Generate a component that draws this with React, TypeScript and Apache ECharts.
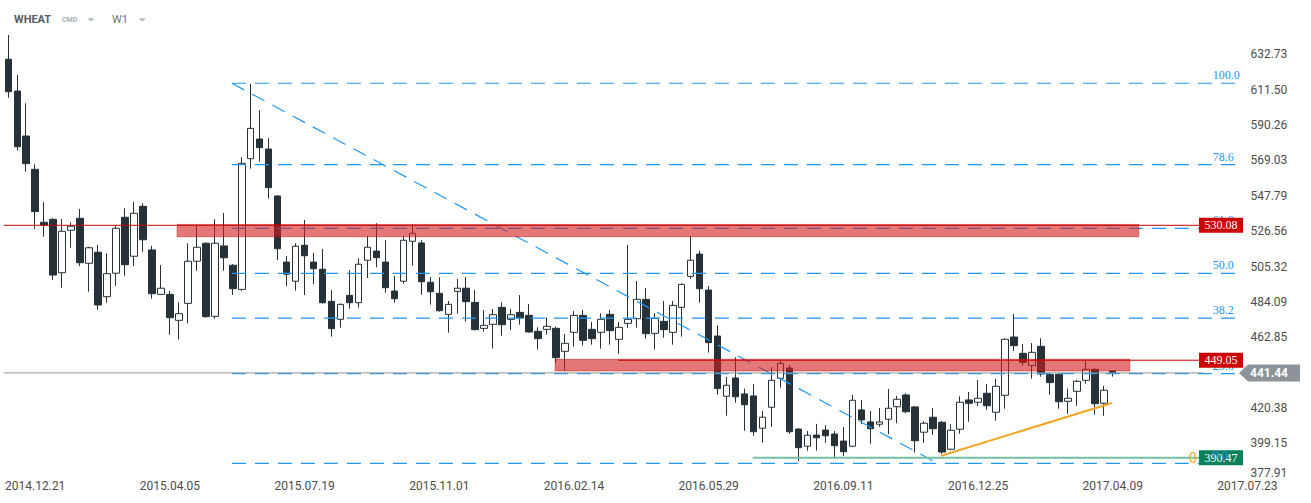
import React, { useEffect, useRef } from "react";
import * as echarts from "echarts";

// ---------- data ----------
const START_UTC = Date.UTC(2014, 10, 30);
const WEEK_MS = 7 * 86400000;
const N_CATS = 145;
const pad2 = (n: number) => String(n).padStart(2, "0");
const categories: string[] = Array.from({ length: N_CATS }, (_, i) => {
  const d = new Date(START_UTC + i * WEEK_MS);
  return `${d.getUTCFullYear()}.${pad2(d.getUTCMonth() + 1)}.${pad2(d.getUTCDate())}`;
});

// weekly candles: [open, close, low, high]
const ohlc: number[][] = [
  [629.8, 610.3, 606.7, 644.4], [610.7, 577.3, 574.9, 620.4], [583.7, 567.1, 562.3, 603.4],
  [563.7, 538.3, 528.0, 566.7], [531.9, 530.3, 523.2, 544.1], [533.7, 500.2, 497.2, 534.3],
  [501.6, 526.5, 492.6, 533.9], [527.1, 529.5, 516.6, 531.9], [534.3, 507.6, 505.6, 539.9],
  [507.3, 516.6, 490.2, 517.2], [513.9, 482.2, 479.4, 518.3], [487.2, 501.0, 483.6, 513.3],
  [501.3, 528.3, 493.6, 529.7], [534.9, 506.4, 499.8, 540.3], [511.5, 537.3, 505.6, 544.1],
  [541.5, 521.4, 514.2, 543.3], [515.3, 489.0, 486.0, 517.7], [488.6, 492.3, 488.6, 506.2],
  [488.6, 474.6, 464.4, 490.6], [473.0, 477.0, 461.6, 483.8], [483.2, 508.5, 471.2, 519.3],
  [508.5, 516.9, 502.8, 529.7], [519.3, 475.2, 474.6, 519.8], [475.4, 519.3, 474.0, 533.7],
  [517.7, 510.6, 502.8, 537.5], [506.1, 492.0, 488.2, 506.8], [491.6, 567.3, 490.8, 570.9],
  [570.1, 588.3, 564.1, 615.0], [581.9, 576.7, 568.3, 599.3], [575.9, 552.7, 546.1, 582.5],
  [547.7, 516.0, 509.2, 548.1], [508.0, 500.7, 493.6, 511.7], [496.5, 517.5, 490.8, 519.3],
  [518.1, 511.8, 488.2, 533.3], [508.0, 504.0, 494.8, 513.5], [503.7, 483.6, 483.0, 515.9],
  [484.4, 468.0, 463.2, 491.2], [473.6, 482.6, 468.6, 483.2], [488.0, 483.6, 480.0, 503.2],
  [483.6, 506.7, 480.6, 510.3], [509.1, 516.9, 498.4, 523.5], [514.6, 510.6, 504.9, 531.3],
  [508.0, 492.6, 489.6, 521.1], [490.6, 486.0, 483.6, 499.8], [496.5, 521.1, 495.0, 523.5],
  [520.5, 525.3, 505.8, 530.7], [519.5, 496.2, 488.4, 521.3], [495.9, 490.2, 482.4, 498.9],
  [489.2, 478.8, 478.2, 498.9], [476.6, 482.6, 465.6, 484.6], [490.4, 492.3, 477.0, 497.8],
  [492.3, 484.2, 472.2, 499.0], [483.8, 467.4, 467.0, 491.2], [468.2, 470.0, 466.2, 479.2],
  [470.6, 476.4, 456.0, 479.8], [480.8, 470.4, 463.8, 483.8], [473.6, 476.4, 467.2, 479.8],
  [477.8, 474.4, 470.4, 488.2], [476.0, 466.0, 465.6, 482.8], [466.4, 462.0, 455.4, 468.8],
  [467.6, 469.4, 464.4, 474.8], [468.2, 450.6, 447.2, 469.2], [454.4, 459.2, 442.8, 464.8],
  [465.8, 476.0, 457.2, 478.6], [476.0, 461.0, 457.8, 479.2], [467.6, 462.0, 458.4, 472.0],
  [465.8, 473.6, 456.0, 477.2], [476.6, 466.8, 458.4, 479.2], [461.6, 468.8, 453.0, 472.0],
  [471.2, 473.6, 468.6, 518.3], [474.0, 485.6, 468.6, 496.6], [485.6, 465.0, 462.0, 492.4],
  [465.2, 474.2, 455.4, 477.2], [472.4, 467.4, 462.6, 484.6], [465.8, 482.0, 458.4, 484.6],
  [480.8, 494.6, 463.2, 495.2], [499.4, 509.1, 498.0, 523.5], [512.8, 492.0, 483.6, 514.8],
  [491.2, 459.6, 453.6, 493.6], [463.6, 432.0, 428.3, 470.0], [427.4, 434.0, 415.7, 439.0],
  [438.4, 427.1, 423.5, 450.8], [428.8, 422.3, 406.7, 432.0], [427.6, 406.1, 403.7, 434.8],
  [408.2, 414.8, 399.5, 418.6], [420.8, 437.0, 409.1, 445.0], [438.2, 447.2, 432.6, 448.8],
  [444.4, 406.1, 404.9, 446.2], [407.7, 396.5, 388.5, 408.2], [397.4, 404.0, 394.7, 406.5],
  [404.1, 402.5, 394.7, 410.8], [407.1, 403.7, 399.5, 410.1], [404.7, 397.7, 389.9, 406.5],
  [400.5, 394.1, 391.5, 408.9], [397.4, 425.0, 397.0, 428.2], [419.2, 413.2, 410.6, 425.2],
  [412.0, 407.9, 398.9, 418.6], [410.6, 412.0, 409.1, 420.4], [413.6, 420.2, 404.6, 431.8],
  [421.1, 425.6, 411.2, 427.6], [428.2, 418.1, 417.2, 429.2], [421.0, 400.7, 393.5, 421.5],
  [405.8, 411.2, 399.5, 412.5], [414.8, 407.9, 404.3, 420.4], [411.8, 393.9, 392.7, 412.5],
  [395.6, 407.0, 395.0, 410.6], [407.6, 423.8, 404.9, 427.4], [425.2, 423.2, 412.1, 430.0],
  [423.8, 426.2, 421.6, 437.2], [429.2, 421.7, 419.3, 434.8], [417.8, 433.4, 412.7, 437.8],
  [428.0, 461.6, 419.9, 462.2], [463.0, 457.8, 454.6, 476.8], [453.2, 447.8, 445.8, 458.8],
  [445.8, 453.8, 438.0, 459.4], [457.4, 440.8, 439.2, 462.2], [440.4, 435.6, 428.3, 441.2],
  [440.6, 424.1, 419.9, 441.2], [424.4, 426.2, 416.9, 432.0], [430.4, 436.4, 421.7, 437.2],
  [437.0, 443.6, 435.0, 448.6], [443.6, 422.9, 416.3, 444.2], [423.2, 431.0, 415.7, 433.6],
  [442.6, 441.44, 439.2, 442.8],
];

const yMin = 377.91;
const yStep = 21.235;
const yTickLabels = [
  "377.91", "399.15", "420.38", "441.62", "462.85", "484.09", "505.32",
  "526.56", "547.79", "569.03", "590.26", "611.50", "632.73", "",
];
const xLabelFirst = 3;
const xLabelEvery = 15;

// Fibonacci retracement tool
const fibHigh = 615.4;
const fibLow = 387.1;
const fibLevels = [100.0, 78.6, 61.8, 50.0, 38.2, 23.6, 0.0];
const fibStartIdx = 24.9;
const fibEndIdx = 136.7;
const fibTrendEndIdx = 103.5;

// levels & zones
const resistanceLevel = 530.08;
const supportLevel = 449.05;
const lastPrice = 441.44;
const lowLevel = 390.47;
const zones = [
  [18.8, 530.6, 125.9, 523.2],
  [60.9, 449.6, 124.9, 442.6],
];
const trendLine = [
  [103.9, 391.7],
  [122.9, 423.4],
];

const DARK = "#263238";
const BLUE = "#2196f3";

function lineSeries(data: number[][], color: string, width: number, type: any, z: number) {
  return {
    type: "line",
    xAxisIndex: 1,
    yAxisIndex: 0,
    data,
    symbol: "none",
    showSymbol: false,
    silent: true,
    z,
    lineStyle: { color, width, type },
    emphasis: { disabled: true },
  };
}

export default function App() {
  const ref = useRef<HTMLDivElement>(null);
  useEffect(() => {
    const chart = echarts.init(ref.current!, null, { renderer: "svg" });
    const fibValue = (lv: number) => fibLow + ((fibHigh - fibLow) * lv) / 100;

    const series: any[] = [
      {
        type: "candlestick",
        xAxisIndex: 0,
        yAxisIndex: 0,
        data: ohlc,
        barWidth: 7,
        z: 2,
        silent: true,
        itemStyle: {
          color: "#ffffff",
          color0: DARK,
          borderColor: DARK,
          borderColor0: DARK,
          borderWidth: 1,
        },
      },
      ...fibLevels.map((lv) =>
        lineSeries([[fibStartIdx, fibValue(lv)], [fibEndIdx, fibValue(lv)]], BLUE, 1.2, [14, 9], 3)
      ),
      lineSeries([[fibStartIdx, fibHigh], [fibTrendEndIdx, fibLow]], BLUE, 1.2, [14, 9], 3),
      lineSeries([[82.9, lowLevel], [132.6, lowLevel]], "#74bf9f", 2, "solid", 3),
      lineSeries(trendLine, "#f6a623", 2, "solid", 3),
      {
        type: "custom",
        xAxisIndex: 1,
        yAxisIndex: 0,
        data: zones,
        z: 4,
        silent: true,
        encode: { x: [0, 2], y: [1, 3] },
        renderItem: (_p: any, api: any) => {
          const p0 = api.coord([api.value(0), api.value(1)]);
          const p1 = api.coord([api.value(2), api.value(3)]);
          return {
            type: "rect",
            shape: { x: p0[0], y: p0[1], width: p1[0] - p0[0], height: p1[1] - p0[1] },
            style: { fill: "rgba(210,30,30,0.6)", stroke: "rgba(204,0,0,0.45)", lineWidth: 1 },
          };
        },
      },
      lineSeries([[-0.5, resistanceLevel], [132.6, resistanceLevel]], "#cc0000", 1, "solid", 5),
      lineSeries([[67.9, supportLevel], [132.6, supportLevel]], "#cc0000", 1, "solid", 5),
      lineSeries([[-0.5, lastPrice], [133.1, lastPrice]], "#8c9499", 1, "solid", 5),
    ];

    chart.setOption({
      animation: false,
      backgroundColor: "#ffffff",
      grid: { left: 3.8, right: 5.2, top: 19.04, bottom: 24.33, containLabel: false, outerBoundsMode: "none" } as any,
      xAxis: [
        {
          type: "category",
          data: categories,
          boundaryGap: true,
          axisLine: { show: false },
          axisTick: { show: false },
          splitLine: { show: false },
          axisLabel: {
            interval: (idx: number) => idx >= xLabelFirst && (idx - xLabelFirst) % xLabelEvery === 0,
            color: "#4d4d4d",
            fontSize: 12,
            fontFamily: "Roboto",
            margin: 1,
          },
        },
        { type: "value", min: -0.5, max: N_CATS - 0.5, show: false },
      ],
      yAxis: {
        type: "value",
        position: "right",
        min: yMin,
        max: yMin + 13 * yStep,
        interval: yStep,
        axisLine: { show: false },
        axisTick: { show: false },
        splitLine: { show: false },
        axisLabel: {
          inside: true,
          margin: 18.5,
          color: "#4d4d4d",
          fontSize: 12,
          fontFamily: "Roboto",
          showMaxLabel: false,
          verticalAlignMinLabel: "bottom",
          formatter: (v: number) => yTickLabels[Math.round((v - yMin) / yStep)] ?? "",
        } as any,
      },
      series,
    });

    const py = (v: number) => chart.convertToPixel({ yAxisIndex: 0 }, v) as unknown as number;
    const serif = "Liberation Serif";
    const tag = (v: number, text: string, fill: string) => ({
      type: "group",
      z: 100,
      children: [
        { type: "rect", z: 100, shape: { x: 1199, y: py(v) - 7.5, width: 44, height: 15 }, style: { fill } },
        {
          type: "text", z: 101, x: 1221, y: py(v),
          style: { text, fill: "#ffffff", font: `12px "${serif}"`, align: "center", verticalAlign: "middle" },
        },
      ],
    });
    const fibLabel = (lv: number, z: number) => ({
      type: "text", z, x: 1212.7, y: py(fibValue(lv)) - 8,
      style: { text: lv.toFixed(1), fill: BLUE, font: `12px "${serif}"`, align: "left", verticalAlign: "middle" },
    });
    const yp = py(lastPrice);
    const graphic: any[] = [
      ...fibLevels.filter((lv) => lv !== 0).map((lv) => fibLabel(lv, 99)),
      {
        type: "text", z: 99, x: 1189, y: py(lowLevel),
        style: { text: "0", fill: "#f6a623", font: '14px "Roboto"', align: "left", verticalAlign: "middle" },
      },
      tag(resistanceLevel, resistanceLevel.toFixed(2), "#cc0000"),
      tag(supportLevel, supportLevel.toFixed(2), "#cc0000"),
      tag(lowLevel, lowLevel.toFixed(2), "#08805a"),
      fibLabel(0, 102),
      {
        type: "polygon", z: 100,
        shape: { points: [[1239, yp], [1248, yp - 8.5], [1300, yp - 8.5], [1300, yp + 8.5], [1248, yp + 8.5]] },
        style: { fill: "#8c9499" },
      },
      {
        type: "text", z: 101, x: 1269, y: yp,
        style: { text: lastPrice.toFixed(2), fill: "#ffffff", font: 'bold 12px "Roboto"', align: "center", verticalAlign: "middle" },
      },
      // header
      { type: "text", z: 100, x: 14, y: 19.5, style: { text: "WHEAT", fill: "#555e63", font: 'bold 11px "Roboto"', verticalAlign: "middle" } },
      { type: "text", z: 100, x: 62, y: 19.5, style: { text: "CMD", fill: "#a8b2b7", font: 'bold 7px "Roboto"', verticalAlign: "middle" } },
      { type: "polygon", z: 100, shape: { points: [[87.3, 18.3], [94.7, 18.3], [91, 21.5]] }, style: { fill: "#b4bcc0" } },
      { type: "text", z: 100, x: 112, y: 19.5, style: { text: "W1", fill: "#6b767c", font: '11px "Roboto"', verticalAlign: "middle" } },
      { type: "polygon", z: 100, shape: { points: [[138.7, 18.3], [146, 18.3], [142.35, 21.5]] }, style: { fill: "#b4bcc0" } },
    ];
    chart.setOption({ graphic });

    return () => chart.dispose();
  }, []);

  return <div ref={ref} style={{ position: "fixed", left: 0, top: 0, width: 1311, height: 503, background: "#fff" }} />;
}
